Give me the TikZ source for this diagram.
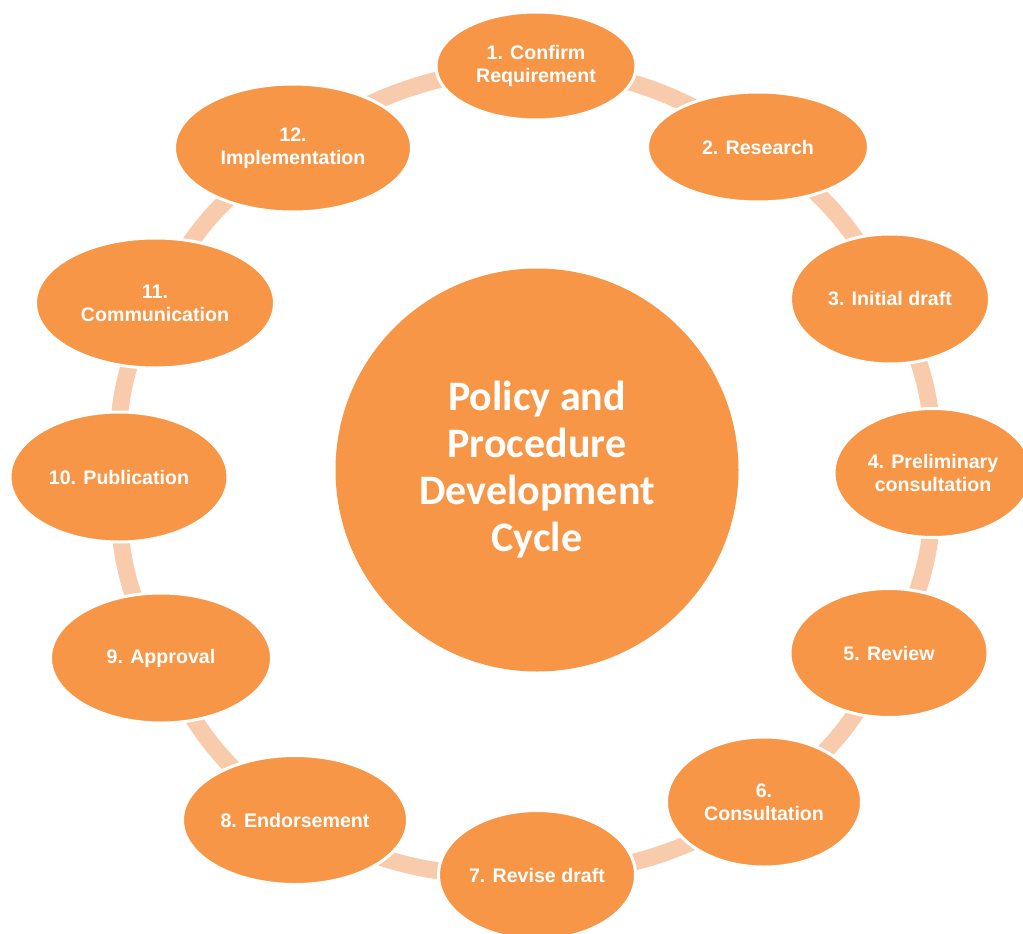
\documentclass[tikz,border=0pt]{standalone}
\usepackage{fontspec}
\usepackage{xcolor}
\usetikzlibrary{shapes.geometric, backgrounds}

\newfontfamily\stagefont{Liberation Sans}
\newfontfamily\hubfont{Carlito}
\definecolor{stageorange}{HTML}{F79646}
\definecolor{linkpeach}{HTML}{F9CBAD}

\begin{document}
\begin{tikzpicture}[x=1pt, y=-1pt,
  stage/.style={ellipse, draw=white, line width=3pt, fill=stageorange, text=white, inner sep=0pt, align=center,
    font=\stagefont\bfseries\fontsize{19.6}{23}\selectfont},
  link/.style={draw=linkpeach, line width=17pt}]
\useasboundingbox (0,0) rectangle (1023,934);

% centre of the cycle
\node[circle, fill=stageorange, minimum size=403pt, inner sep=0pt, text=white, align=center,
  font=\hubfont\bfseries\fontsize{42}{47}\selectfont] (hub) at (537,470) {Policy and\\Procedure\\Development\\Cycle};

% the twelve stages, clockwise from the top
\node[stage, minimum width=200pt, minimum height=108pt] (confirm) at (536,66) {1. Confirm\\Requirement};
\node[stage, minimum width=221pt, minimum height=110pt] (research) at (758,147) {2. Research};
\node[stage, minimum width=199pt, minimum height=130pt] (draft) at (890,299) {3. Initial draft};
\node[stage, minimum width=198pt, minimum height=129pt] (prelim) at (933,473) {4. Preliminary\\consultation};
\node[stage, minimum width=198pt, minimum height=129pt] (review) at (889,653) {5. Review};
\node[stage, minimum width=195pt, minimum height=130pt] (consult) at (764,802) {6.\\Consultation};
\node[stage, minimum width=197pt, minimum height=129pt] (revise) at (537,875) {7. Revise draft};
\node[stage, minimum width=225pt, minimum height=129pt] (endorse) at (295,820) {8. Endorsement};
\node[stage, minimum width=221pt, minimum height=130pt] (approve) at (161,658) {9. Approval};
\node[stage, minimum width=218pt, minimum height=130pt] (publish) at (119,477) {10. Publication};
\node[stage, minimum width=239pt, minimum height=130pt] (comms) at (155,303) {11.\\Communication};
\node[stage, minimum width=237pt, minimum height=128pt] (implement) at (293,148) {12.\\Implementation};

% links behind the stages
\begin{scope}[on background layer]
\draw[link] (confirm.center) to[bend left=15] (research.center);
\draw[link] (research.center) to[bend left=15] (draft.center);
\draw[link] (draft.center) to[bend left=15] (prelim.center);
\draw[link] (prelim.center) to[bend left=15] (review.center);
\draw[link] (review.center) to[bend left=15] (consult.center);
\draw[link] (consult.center) to[bend left=15] (revise.center);
\draw[link] (revise.center) to[bend left=15] (endorse.center);
\draw[link] (endorse.center) to[bend left=15] (approve.center);
\draw[link] (approve.center) to[bend left=15] (publish.center);
\draw[link] (publish.center) to[bend left=15] (comms.center);
\draw[link] (comms.center) to[bend left=15] (implement.center);
\draw[link] (implement.center) to[bend left=15] (confirm.center);
\end{scope}
\end{tikzpicture}
\end{document}
